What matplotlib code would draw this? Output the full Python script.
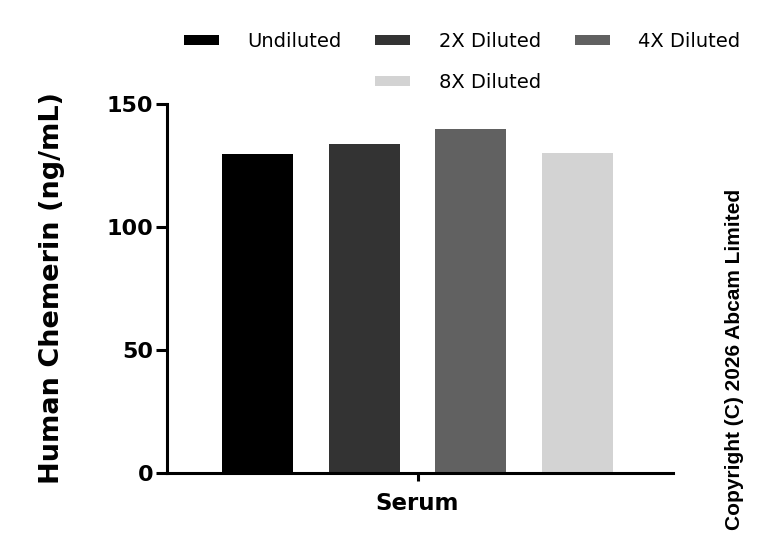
import matplotlib
matplotlib.use("Agg")
import matplotlib.pyplot as plt
from matplotlib.patches import Rectangle

categories = ["Serum"]
series = ["Undiluted", "2X Diluted", "4X Diluted", "8X Diluted"]
values = [129.5, 133.7, 139.8, 130.1]
colors = ["#000000", "#333333", "#616161", "#d3d3d3"]
yticks = [0, 50, 100, 150]

fig = plt.figure(figsize=(7.68, 5.58), dpi=100)
ax = fig.add_axes([167/768, 1-473/558, (673-167)/768, (473-104)/558])

bw = 0.71
step = 1.07
offsets = [(i - 1.5) * step for i in range(4)]
bars = []
for off, v, c, lab in zip(offsets, values, colors, series):
    b = ax.bar(0 + off, v, width=bw, color=c, label=lab)
    bars.append(b)

ax.set_xlim(-1.5*step - bw/2 - 0.55, 1.5*step + bw/2 + 0.6)
ax.set_ylim(0, 150)
ax.set_yticks(yticks)
ax.set_xticks([0])
ax.set_xticklabels(categories)
for s in ["top", "right"]:
    ax.spines[s].set_visible(False)
for s in ["left", "bottom"]:
    ax.spines[s].set_linewidth(2.2)
ax.tick_params(axis="y", width=2.2, length=8, labelsize=16, pad=2)
ax.tick_params(axis="x", width=2.2, length=6, labelsize=16.5, pad=8)
for t in ax.get_yticklabels() + ax.get_xticklabels():
    t.set_fontweight("bold")
ax.set_ylabel("Human Chemerin (ng/mL)", fontsize=19.5, fontweight="bold", labelpad=30)

blank = Rectangle((0, 0), 1, 1, fc="none", ec="none")
h = [bars[0], blank, bars[1], bars[3], bars[2]]
l = [series[0], "", series[1], series[3], series[2]]
fig.legend(h, l, ncol=3, loc="center", bbox_to_anchor=(462/768, 1-62/558),
           frameon=False, fontsize=14, handlelength=1.8, handleheight=0.4,
           handletextpad=1.45, columnspacing=1.75, labelspacing=1.15)

fig.text(735/768, 1-359/558, "Copyright (C) 2026 Abcam Limited", rotation=90,
         ha="center", va="center", fontsize=15, fontweight="bold",
         family="Liberation Sans")

fig.savefig("out.png", dpi=100)
